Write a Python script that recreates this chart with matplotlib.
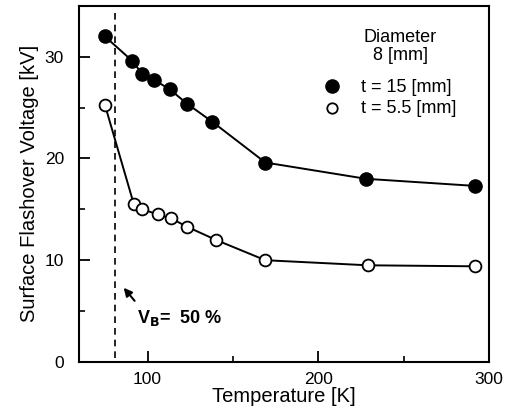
import matplotlib.pyplot as plt
from matplotlib.ticker import MultipleLocator

# t = 15 mm (filled circles)
temp_15 = [75, 91, 97, 104, 113, 123, 138, 169, 228, 292]
volt_15 = [32.0, 29.6, 28.3, 27.7, 26.8, 25.4, 23.6, 19.6, 18.0, 17.3]

# t = 5.5 mm (open circles)
temp_55 = [75, 92, 97, 106, 114, 123, 140, 169, 229, 292]
volt_55 = [25.3, 15.5, 15.0, 14.5, 14.1, 13.3, 12.0, 10.0, 9.5, 9.4]

vb_temp = 81  # dashed line, V_B = 50 %

plt.rcParams['font.family'] = ['Liberation Sans', 'DejaVu Sans']

fig = plt.figure(figsize=(5.11, 4.17), dpi=100)
ax = fig.add_axes([0.155, 0.132, 0.802, 0.854])

ax.plot(temp_15, volt_15, '-o', color='black', lw=1.4, ms=9.5,
        markerfacecolor='black', markeredgecolor='black')
ax.plot(temp_55, volt_55, '-o', color='black', lw=1.4, ms=8.5,
        markerfacecolor='white', markeredgecolor='black', markeredgewidth=1.3)

ax.plot([vb_temp, vb_temp], [0.4, 34.4], '--', color='black', lw=1.2, dashes=(4, 3))
ax.annotate('', xy=(85, 7.5), xytext=(93.5, 5.8),
            arrowprops=dict(arrowstyle='-|>', color='black', lw=1.5,
                            mutation_scale=12))
ax.text(94, 4.3, r'V$_\mathbf{B}$=  50 %', fontsize=13, fontweight='bold',
        va='center', ha='left')

# legend drawn by hand
ax.text(248, 31.9, 'Diameter', fontsize=13, ha='center', va='center')
ax.text(248, 30.1, '8 [mm]', fontsize=13, ha='center', va='center')
ax.plot([208], [27.1], 'o', color='black', ms=9.5)
ax.plot([208], [25.0], 'o', color='black', ms=7.5, markerfacecolor='white',
        markeredgewidth=1.3)
ax.text(225, 27.0, 't = 15 [mm]', fontsize=13, ha='left', va='center')
ax.text(225, 24.9, 't = 5.5 [mm]', fontsize=13, ha='left', va='center')

ax.set_xlim(60, 300)
ax.set_ylim(0, 35)
ax.set_xticks([100, 200, 300])
ax.set_yticks([0, 10, 20, 30])
ax.xaxis.set_minor_locator(MultipleLocator(50))
ax.yaxis.set_minor_locator(MultipleLocator(5))
ax.tick_params(which='major', direction='in', length=8, width=1.3, labelsize=12.5)
ax.tick_params(which='minor', direction='in', length=4, width=1.2)
ax.tick_params(axis='y', which='major', pad=11)
ax.tick_params(axis='x', which='major', pad=7)
for s in ax.spines.values():
    s.set_linewidth(1.5)

ax.set_xlabel('Temperature [K]', fontsize=14.5, labelpad=0)
ax.set_ylabel('Surface Flashover Voltage [kV]', fontsize=14.5, labelpad=4)

fig.savefig('out.png', dpi=100)
